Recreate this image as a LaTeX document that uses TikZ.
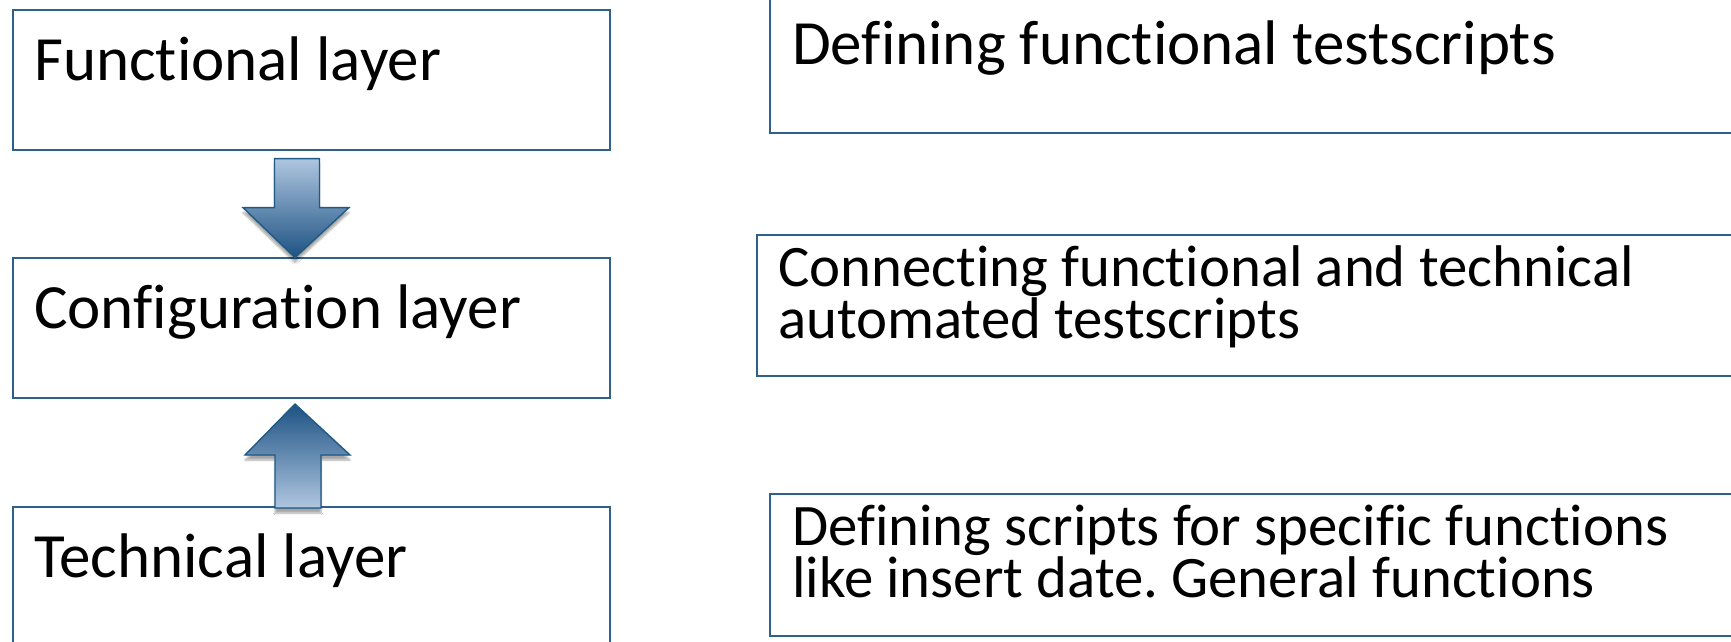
\documentclass[tikz,border=0pt]{standalone}
\usepackage{fontspec}
\setmainfont[Ligatures={NoCommon}]{Carlito}
\usetikzlibrary{calc,shadows.blur}
\frenchspacing
\definecolor{edge}{HTML}{2E6088}
\definecolor{arrowlight}{HTML}{AFC6E0}
\definecolor{arrowdark}{HTML}{1D5283}
\definecolor{arrowline}{HTML}{1F5A86}
\begin{document}
\begin{tikzpicture}[x=1pt,y=-1pt,
  layerbox/.style={draw=edge,line width=1.6pt,fill=white,anchor=north west,inner sep=0pt},
  txt/.style={anchor=base west,inner sep=0pt,align=left,
    font=\fontsize{63}{48}\selectfont},
  txtsmall/.style={txt,font=\fontsize{58.8}{48}\selectfont},
  blockarrow/.style={draw=arrowline,line width=1.4pt,line join=miter,
    blur shadow={shadow xshift=0pt,shadow yshift=-5pt,shadow blur steps=6,shadow opacity=35}},
]
\useasboundingbox (0,0) rectangle (1731,642);
\clip (0,0) rectangle (1731,642);

% left column: the three layers
\node[layerbox,minimum width=597pt,minimum height=140pt] (fl) at (12,9) {};
\node[layerbox,minimum width=597pt,minimum height=140pt] (cl) at (12,257) {};
\node[layerbox,minimum width=597pt,minimum height=160pt] (tl) at (12,506) {};

% right column: descriptions
\node[layerbox,minimum width=990pt,minimum height=140pt] (fd) at (769,-8) {};
\node[layerbox,minimum width=990pt,minimum height=141pt] (cd) at (756,234) {};
\node[layerbox,minimum width=990pt,minimum height=142pt] (td) at (769,493) {};

% labels (multi-line labels are placed by their last baseline)
\node[txt] (flt) at (34,80) {Functional layer};
\node[txt] (clt) at (34,328) {Configuration layer};
\node[txt] (tlt) at (34,577) {Technical layer};
\node[txt] (fdt) at (792,64) {Defining functional testscripts};
\node[txtsmall] (cdt) at (778,338) {Connecting functional and technical\\automated testscripts};
\node[txtsmall] (tdt) at (792,597) {Defining scripts for specific functions\\like insert date. General functions};

% block arrow from the functional to the configuration layer
\coordinate (dn) at ($(fl.south west)+(285,8)$);
\fill[top color=arrowlight,bottom color=arrowdark,blockarrow]
  ($(dn)+(-22.5,0)$) -- ($(dn)+(22.5,0)$) -- ($(dn)+(22.5,49)$) -- ($(dn)+(52,49)$)
  -- ($(dn)+(-2,99)$) -- ($(dn)+(-54,49)$) -- ($(dn)+(-22.5,49)$) -- cycle;

% block arrow from the technical to the configuration layer
\coordinate (up) at ($(tl.north west)+(286,2)$);
\fill[bottom color=arrowlight,top color=arrowdark,blockarrow]
  ($(up)+(-23,0)$) -- ($(up)+(23,0)$) -- ($(up)+(23,-53)$) -- ($(up)+(52,-53)$)
  -- ($(up)+(-3,-104)$) -- ($(up)+(-53,-53)$) -- ($(up)+(-23,-53)$) -- cycle;
\end{tikzpicture}
\end{document}
